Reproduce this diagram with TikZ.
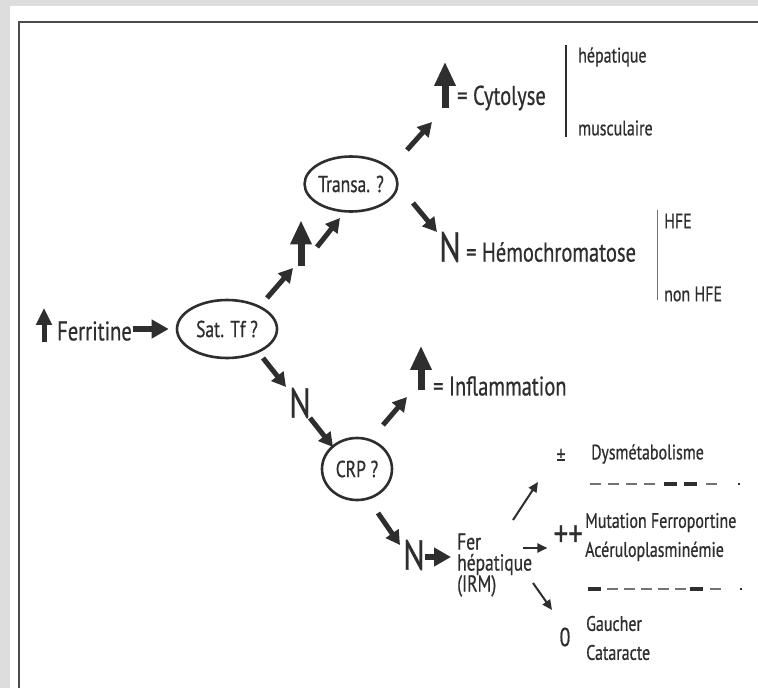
\documentclass[tikz,border=0pt]{standalone}
\usepackage{fontspec}
\setmainfont{PT Sans}[FakeStretch=0.76, FakeBold=0.6]
\usepackage{tikz}
\usetikzlibrary{shapes.geometric, arrows.meta, calc}
\definecolor{ink}{HTML}{2E2E2E}
\definecolor{panel}{HTML}{DDDDDD}
\newcommand{\bigtxt}{\fontsize{27}{30}\selectfont}
\newcommand{\midtxt}{\fontsize{23}{21}\selectfont}
\newcommand{\smltxt}{\fontsize{21}{29}\selectfont}

\begin{document}
\begin{tikzpicture}[x=1pt, y=-1pt, every node/.style={inner sep=0pt, text=ink},
    txt/.style={anchor=west, font=\bigtxt},
    lbl/.style={anchor=west, align=left, font=\smltxt},
    testbox/.style={draw=ink, ellipse, line width=2.6pt, font=\fontsize{23}{26}\selectfont},
    nsym/.style={font=\fontsize{42}{42}\selectfont},
    upbox/.style={minimum width=20pt, minimum height=45pt},
    uparrow/.style={draw=ink, line width=7pt, -{Triangle[length=24pt,width=20pt]}},
    fatarrow/.style={draw=ink, line width=5pt, -{Triangle[length=14pt,width=15pt]}},
    sidearrow/.style={draw=ink, line width=6pt, -{Triangle[length=17pt,width=18pt]}},
    thinarrow/.style={draw=ink, line width=2pt, -{Triangle[length=10pt,width=9pt]}}]
    \useasboundingbox (0,0) rectangle (758,688);
    \fill[panel] (0,0) rectangle (758,688);
    \fill[white] (10,6) rectangle (758,688);
    \draw[black!70, line width=1.8pt] (19,688) -- (19,22) -- (758,22);

    % start
    \node[minimum width=15pt, minimum height=34pt] (ferup) at (44,325) {};
    \draw[draw=ink, line width=5pt, -{Triangle[length=17pt,width=15pt]}] (ferup.south) -- (ferup.north);
    \node[txt] (ferr) at (57,331) {Ferritine};
    \node[testbox, minimum width=100pt, minimum height=58pt] (sat) at (227,329) {Sat. Tf ?};
    \draw[sidearrow] ($(ferr.east)+(1,-2)$) -- ($(sat.west)+(-7,0)$);

    % upper branch
    \node[upbox, minimum width=17pt] (upT) at (301,243) {};
    \draw[uparrow] (upT.south) -- (upT.north);
    \node[testbox, minimum width=86pt, minimum height=55pt] (transa) at (351,184) {Transa. ?};
    \draw[fatarrow] ($(sat)+(40,-31)$) -- ($(upT)+(-8,25)$);
    \draw[fatarrow] ($(upT)+(16,4)$) -- ($(transa)+(-11,34)$);

    \node[upbox, minimum width=21pt, minimum height=46pt] (upC) at (445,85) {};
    \draw[uparrow] (upC.south) -- (upC.north);
    \node[txt] (cyto) at (457,98) {= Cytolyse};
    \node[lbl] (hepa) at (578,57) {hépatique};
    \node[lbl] (musc) at (578,128) {musculaire};
    \draw[ink, line width=1.5pt] (566,45) -- (566,137);
    \draw[fatarrow] ($(transa)+(56,-34)$) -- ($(upC)+(-13,37)$);

    \node[nsym] (nH) at (450,247) {N};
    \node[txt] (hemo) at (466,252) {= Hémochromatose};
    \node[lbl] (hfe) at (664,221) {HFE};
    \node[lbl] (nonhfe) at (664,294) {non HFE};
    \draw[black!55, line width=1pt] (657,210) -- (657,300);
    \draw[fatarrow] ($(transa)+(62,19)$) -- ($(nH)+(-13,-15)$);

    % lower branch
    \node[nsym] (nC) at (300,403) {N};
    \node[testbox, minimum width=70pt, minimum height=62pt] (crp) at (357,469) {CRP ?};
    \draw[fatarrow] ($(sat)+(36,29)$) -- ($(nC)+(-14,-16)$);
    \draw[fatarrow] ($(nC)+(10,15)$) -- ($(crp)+(-24,-22)$);

    \node[upbox, minimum width=21pt, minimum height=44pt] (upI) at (421,368) {};
    \draw[uparrow] (upI.south) -- (upI.north);
    \node[txt] (infl) at (433,386) {= Inflammation};
    \draw[fatarrow] ($(crp)+(26,-44)$) -- ($(upI)+(-14,29)$);

    \node[nsym] (nF) at (414,555) {N};
    \node[anchor=west, align=left, font=\midtxt] (fer) at (457,565) {Fer\\hépatique\\(IRM)};
    \draw[fatarrow] ($(crp)+(21,44)$) -- ($(nF)+(-14,-10)$);
    \draw[sidearrow] ($(nF)+(11,2)$) -- ($(fer.west)+(-6,-8)$);

    % results
    \node[font=\fontsize{24}{24}\selectfont] (pm) at (561,457) {±};
    \node[lbl] (dys) at (591,454) {Dysmétabolisme};
    \node[anchor=east, font=\fontsize{38}{38}\selectfont] (pp) at (583,536) {++};
    \node[lbl] (mut) at (585,537) {Mutation Ferroportine\\Acéruloplasminémie};
    \node[font=\fontsize{26}{26}\selectfont] (zero) at (565,637) {0};
    \node[lbl] (gau) at (586,638) {Gaucher\\Cataracte};
    \draw[thinarrow] ($(fer.west)+(56,-45)$) -- ($(pm)+(-23,25)$);
    \draw[thinarrow] ($(fer.west)+(66,-17)$) -- ($(pp.west)+(-6,12)$);
    \draw[thinarrow] ($(fer.west)+(76,18)$) -- ($(zero)+(-13,-27)$);

    % separators
    \foreach \x in {590,608,626,644,706}
        \draw[black!55, line width=1.6pt] (\x,484) -- ++(11,0);
    \foreach \x in {664,684}
        \draw[ink, line width=3.5pt] (\x,484) -- ++(13,0);
    \fill[ink] (738,483) rectangle ++(2,2);
    \foreach \x in {607,624,641,658,675,710}
        \draw[black!55, line width=1.6pt] (\x,589) -- ++(11,0);
    \foreach \x in {588,690}
        \draw[ink, line width=3.5pt] (\x,589) -- ++(13,0);
    \fill[ink] (740,588) rectangle ++(2,2);
\end{tikzpicture}
\end{document}
